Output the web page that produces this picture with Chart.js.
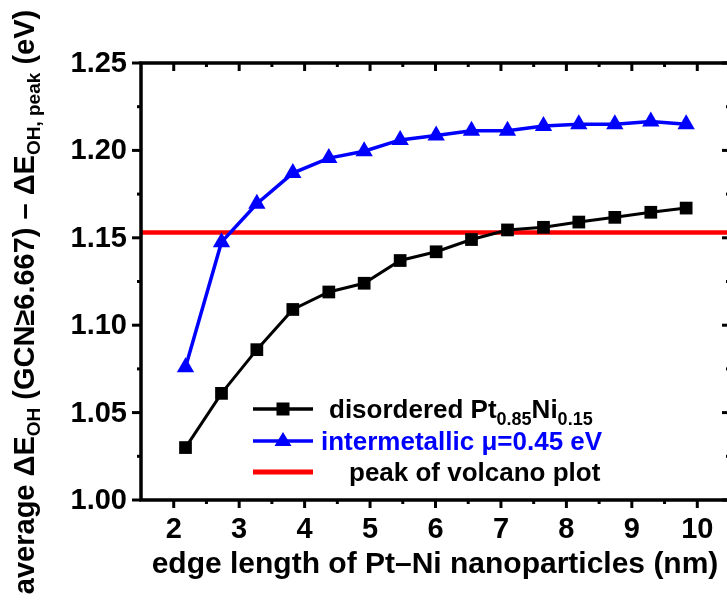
<!DOCTYPE html>
<html>
<head>
<meta charset="utf-8">
<script src="https://cdn.jsdelivr.net/npm/chart.js@4.4.1/dist/chart.umd.min.js"></script>
<style>
  html, body { margin: 0; padding: 0; background: #fff; overflow: hidden; }
  #wrap { width: 740px; height: 602px; }
</style>
</head>
<body>
<div id="wrap"><canvas id="edgeChart" width="740" height="602"></canvas></div>
<script>
// edge length (nm) of the Pt-Ni particles
var edgeLength = [2.18, 2.73, 3.27, 3.82, 4.37, 4.91, 5.46, 6.01, 6.55, 7.10, 7.65, 8.19, 8.74, 9.29, 9.83];
// average dE_OH - dE_OH,peak (eV)
var disordered = [1.030, 1.061, 1.086, 1.109, 1.119, 1.124, 1.137, 1.142, 1.149, 1.1545, 1.156, 1.159, 1.1617, 1.1646, 1.167];
var intermetallic = [1.076, 1.1475, 1.1695, 1.187, 1.1956, 1.1995, 1.206, 1.2085, 1.2112, 1.2112, 1.214, 1.215, 1.215, 1.2166, 1.215];
var volcanoPeak = 1.153;

var xTicks = [2, 3, 4, 5, 6, 7, 8, 9, 10];
var yTicks = ['1.00', '1.05', '1.10', '1.15', '1.20', '1.25'];

var FONT = '"Liberation Sans", Arial, sans-serif';

function pts(ys) {
  return edgeLength.map(function(x, i) { return { x: x, y: ys[i] }; });
}

function line(ctx, x1, y1, x2, y2) {
  ctx.beginPath();
  ctx.moveTo(x1, y1);
  ctx.lineTo(x2, y2);
  ctx.stroke();
}

// text runs with subscripts: [text, isSub]
function drawRuns(ctx, runs, x, y, size, subSize, subDrop) {
  runs.forEach(function(r) {
    ctx.font = 'bold ' + (r[1] ? subSize : size) + 'px ' + FONT;
    ctx.fillText(r[0], x, y + (r[1] ? subDrop : 0));
    x += ctx.measureText(r[0]).width;
  });
  return x;
}
function runsWidth(ctx, runs, size, subSize) {
  var w = 0;
  runs.forEach(function(r) {
    ctx.font = 'bold ' + (r[1] ? subSize : size) + 'px ' + FONT;
    w += ctx.measureText(r[0]).width;
  });
  return w;
}

var originFrame = {
  id: 'originFrame',
  afterDraw: function(chart) {
    var ctx = chart.ctx;
    var a = chart.chartArea;
    var xs = chart.scales.x, ys = chart.scales.y;
    ctx.save();
    ctx.strokeStyle = '#000';
    ctx.fillStyle = '#000';

    // ticks: out on left/bottom, in on top/right
    ctx.lineWidth = 3;
    for (var i = 0; i <= 18; i++) {
      var v = 1.5 + i * 0.5;
      if (i === 0 || i === 18) continue;
      var major = (i % 2 === 1);
      var px = xs.getPixelForValue(v);
      line(ctx, px, a.bottom, px, a.bottom + (major ? 8 : 4));
      line(ctx, px, a.top, px, a.top + (major ? 8 : 4));
    }
    for (var j = 0; j <= 10; j++) {
      var vy = 1.0 + j * 0.025;
      var majorY = (j % 2 === 0);
      var py = ys.getPixelForValue(vy);
      line(ctx, a.left, py, a.left - (majorY ? 9 : 4), py);
      line(ctx, a.right, py, a.right - (majorY ? 8 : 4), py);
    }

    // frame
    ctx.lineWidth = 3.5;
    ctx.strokeRect(a.left, a.top, a.right - a.left, a.bottom - a.top);

    // tick labels
    ctx.font = 'bold 29px ' + FONT;
    ctx.textBaseline = 'alphabetic';
    ctx.textAlign = 'right';
    yTicks.forEach(function(t) {
      ctx.fillText(t, 127, ys.getPixelForValue(parseFloat(t)) + 9);
    });
    ctx.textAlign = 'center';
    xTicks.forEach(function(t) {
      ctx.fillText(String(t), xs.getPixelForValue(t), 538);
    });

    // x title
    ctx.font = 'bold 30px ' + FONT;
    ctx.fillText('edge length of Pt\u2013Ni nanoparticles (nm)', 435, 573);

    // y title, rotated
    ctx.textAlign = 'left';
    var yRuns = [['average \u0394E', false], ['OH', true], [' (GCN\u22656.667) \u2013 \u0394E', false],
                 ['OH, peak', true], [' (eV)', false]];
    var tw = runsWidth(ctx, yRuns, 29, 19);
    ctx.save();
    ctx.translate(34, 302);
    ctx.rotate(-Math.PI / 2);
    drawRuns(ctx, yRuns, -tw / 2, 0, 29, 19, 6);
    ctx.restore();

    // legend
    var rows = [
      { y: 409, color: '#000', style: 'rect', tx: 329, textColor: '#000',
        runs: [['disordered Pt', false], ['0.85', true], ['Ni', false], ['0.15', true]] },
      { y: 441, color: '#0000ff', style: 'triangle', tx: 321, textColor: '#0000ff',
        runs: [['intermetallic \u03bc=0.45 eV', false]] },
      { y: 472, color: '#ff0000', style: null, tx: 349, textColor: '#000',
        runs: [['peak of volcano plot', false]] }
    ];
    rows.forEach(function(r) {
      ctx.strokeStyle = r.color;
      ctx.fillStyle = r.color;
      ctx.lineWidth = r.style ? 3.5 : 5;
      line(ctx, 253, r.y, 313, r.y);
      if (r.style === 'rect') {
        ctx.fillRect(283 - 6.5, r.y - 6.5, 13, 13);
      } else if (r.style === 'triangle') {
        ctx.beginPath();
        ctx.moveTo(283, r.y - 9);
        ctx.lineTo(283 + 8.5, r.y + 5);
        ctx.lineTo(283 - 8.5, r.y + 5);
        ctx.closePath();
        ctx.fill();
      }
      ctx.fillStyle = r.textColor;
      drawRuns(ctx, r.runs, r.tx, r.y + 9, 26, 18, 7);
    });

    ctx.restore();
  }
};

var ctx = document.getElementById('edgeChart').getContext('2d');
var chart = new Chart(ctx, {
  type: 'line',
  data: {
    datasets: [
      {
        label: 'disordered',
        data: pts(disordered),
        borderColor: '#000000',
        backgroundColor: '#000000',
        borderWidth: 3,
        pointStyle: 'rect',
        pointRadius: 9,
        pointBorderWidth: 0
      },
      {
        label: 'intermetallic',
        data: pts(intermetallic),
        borderColor: '#0000ff',
        backgroundColor: '#0000ff',
        borderWidth: 3.5,
        pointStyle: 'triangle',
        pointRadius: 10,
        pointBorderWidth: 0
      },
      {
        label: 'peak of volcano plot',
        data: [{ x: 1.5, y: volcanoPeak }, { x: 10.5, y: volcanoPeak }],
        borderColor: '#ff0000',
        borderWidth: 4.5,
        pointRadius: 0
      }
    ]
  },
  options: {
    responsive: false,
    animation: false,
    events: [],
    layout: { padding: { left: 141, top: 63, right: 9, bottom: 102 } },
    scales: {
      x: { type: 'linear', min: 1.5, max: 10.5, display: false },
      y: { type: 'linear', min: 1.0, max: 1.25, display: false }
    },
    plugins: {
      legend: { display: false },
      tooltip: { enabled: false }
    }
  },
  plugins: [originFrame]
});
</script>
</body>
</html>
